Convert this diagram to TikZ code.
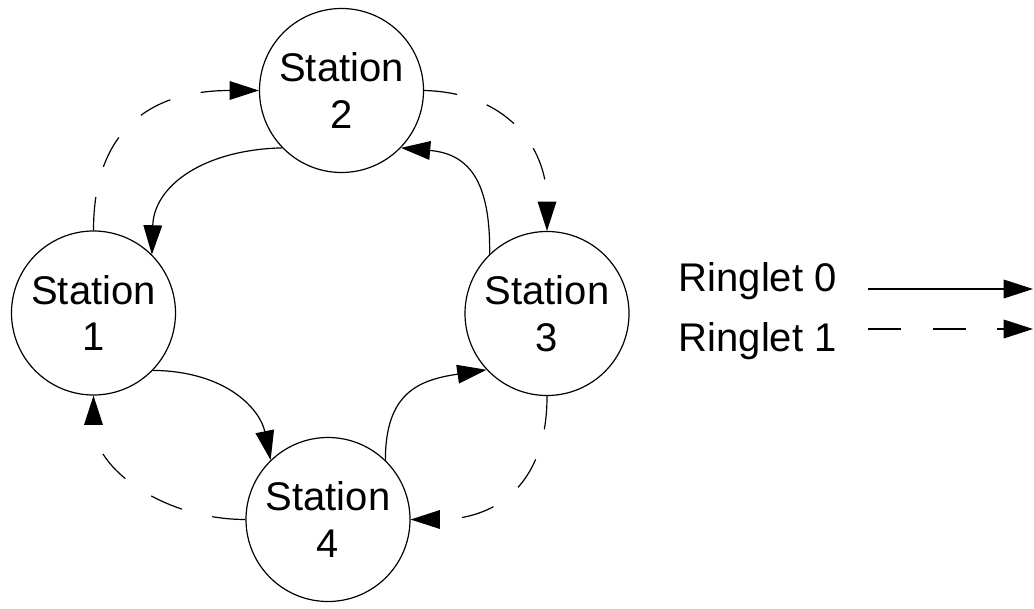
\documentclass[tikz,border=0pt]{standalone}
\usepackage{fontspec}
\setmainfont{Liberation Sans}
\usetikzlibrary{arrows.meta}
\begin{document}
\begin{tikzpicture}[x=0.75pt,y=-0.75pt,
  every node/.style={font=\fontsize{30}{35}\selectfont},
  station/.style={draw,circle,line width=0.9pt,minimum size=123pt,inner sep=0pt,align=center},
  ring/.style={line width=0.9pt,-{Triangle[length=22pt,width=14pt]}},
  ringzero/.style={ring},
  ringone/.style={ring,dash pattern=on 25pt off 23.5pt},
  legendtext/.style={anchor=base west,inner sep=0pt}]
\useasboundingbox (0,0) rectangle (1034,609);

% stations
\node[station] (s1) at (93.5,313) {Station\\1};
\node[station] (s2) at (341.5,90.5) {Station\\2};
\node[station] (s3) at (547,313.5) {Station\\3};
\node[station] (s4) at (328,519.5) {Station\\4};

% ringlet 0 (inner, solid)
\draw[ringzero] (s2.224) .. controls +(-80,2) and +(2,-68) .. (s1.45);
\draw[ringzero] (s1.316) .. controls +(76,1) and +(-10,-49) .. (s4.134);
\draw[ringzero] (s4.46) .. controls +(0,-68) and +(-67,10) .. (s3.223);
\draw[ringzero] (s3.134) .. controls +(1,-73) and +(68,6) .. (s2.316);

% ringlet 1 (outer, dashed)
\draw[ringone] (s1.90) .. controls +(0,-100) and +(-109,0) .. (s2.180);
\draw[ringone] (s2.0) .. controls +(81,2) and +(0,-86) .. (s3.90);
\draw[ringone] (s3.270) .. controls +(0,94) and +(80,0) .. (s4.0);
\draw[ringone] (s4.180) .. controls +(-80,0) and +(0,74) .. (s1.270);

% legend
\node[legendtext] (l0) at (678.5,292) {Ringlet 0};
\node[legendtext] (l1) at (678.5,351) {Ringlet 1};
\coordinate (a0) at (868,289);
\coordinate (b0) at (1033,289);
\coordinate (a1) at (868,329);
\coordinate (b1) at (1033,329);
\draw[ringzero] (a0) -- (b0);
\draw[ringone] (a1) -- (b1);
\end{tikzpicture}
\end{document}
